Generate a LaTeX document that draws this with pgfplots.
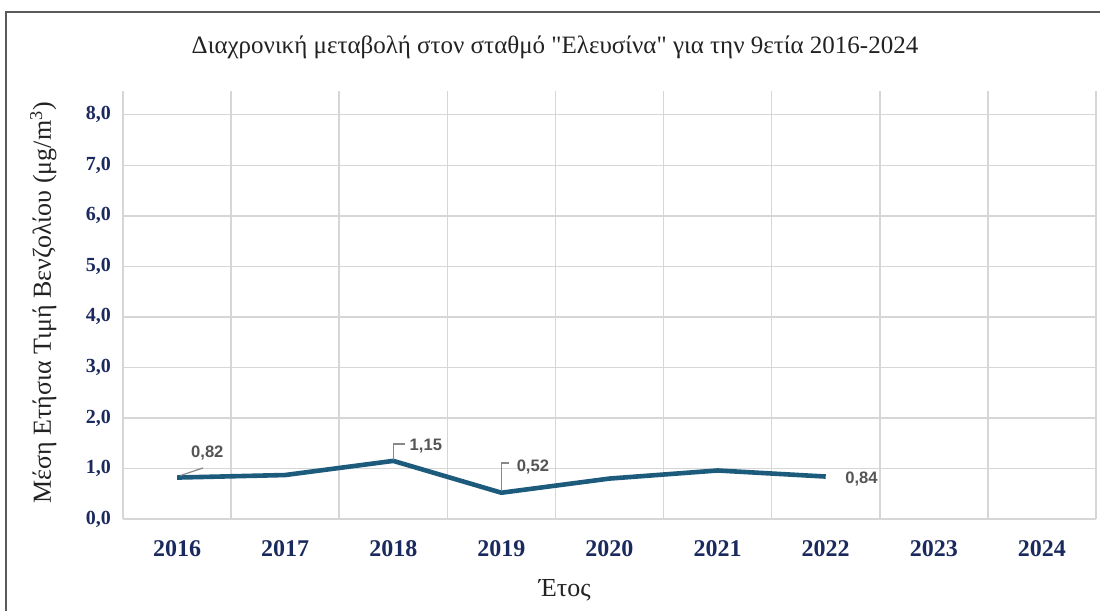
\documentclass[border=0pt]{standalone}
\usepackage{fontspec}
\setmainfont{Liberation Serif}[Ligatures=TeXOff]
\newfontfamily\lsans{Liberation Sans}
\usepackage{pgfplots}
\pgfplotsset{compat=1.18}
\definecolor{navy}{HTML}{1B2A5E}
\definecolor{linec}{HTML}{1D5B7C}
\definecolor{gridc}{HTML}{D6D6D6}
\definecolor{lblc}{HTML}{555555}
\definecolor{framec}{HTML}{5A5A5A}
\definecolor{txtc}{HTML}{222222}
\begin{document}
\begin{tikzpicture}
\useasboundingbox (0,0) rectangle (550pt,305.5pt);
\draw[framec, line width=1.1pt] (2.9pt,-10pt) -- (2.9pt,299.6pt) -- (560pt,299.6pt);
\node[font=\fontsize{12.5}{14}\selectfont, text=txtc] at (277.5pt,282pt) {Διαχρονική μεταβολή στον σταθμό "Ελευσίνα" για την 9ετία 2016-2024};
\begin{axis}[
  at={(61.5pt,46pt)}, anchor=south west, scale only axis,
  width=486.5pt, height=214pt,
  xmin=-0.5, xmax=8.5, ymin=0, ymax=8.47,
  axis line style={draw=none}, tick style={draw=none},
  xtick={0,...,8},
  xticklabels={2016,2017,2018,2019,2020,2021,2022,2023,2024},
  minor xtick={-0.5,0.5,...,8.5},
  xminorgrids=true, ymajorgrids=true,
  grid style={gridc, line width=0.75pt},
  minor grid style={gridc, line width=0.75pt},
  ytick={0,1,...,8},
  /pgf/number format/.cd, fixed, fixed zerofill, precision=1, use comma, assume math mode=true,
  /pgfplots/.cd,
  yticklabel style={font=\bfseries\fontsize{10}{11}\selectfont, text=navy, xshift=-2.5pt},
  xticklabel style={font=\bfseries\fontsize{12}{14}\selectfont, text=navy, yshift=-7pt},
  xlabel={Έτος},
  ylabel={Μέση Ετήσια Τιμή Βενζολίου (μg/m\textsuperscript{3})},
  every axis x label/.style={at={(axis description cs:0.454,-0.166)}, anchor=center, font=\fontsize{13}{15}\selectfont, text=txtc},
  every axis y label/.style={at={(axis description cs:-0.082,0.505)}, anchor=center, rotate=90, font=\fontsize{13}{15}\selectfont, text=txtc},
  clip=false,
]
\addplot[linec, line width=2.3pt, line join=round] coordinates {
(0,0.82) (1,0.87) (2,1.15) (3,0.52) (4,0.80) (5,0.96) (6,0.84)
};
\draw[lblc!70, line width=0.6pt] (axis cs:0.03,0.86) -- (axis cs:0.24,1.01);
\draw[lblc!70, line width=0.6pt] (axis cs:2,1.17) -- (axis cs:2,1.485) -- (axis cs:2.11,1.485);
\draw[lblc!70, line width=0.6pt] (axis cs:3,0.55) -- (axis cs:3,1.11) -- (axis cs:3.07,1.11);
\node[font=\lsans\bfseries\fontsize{8.3}{9}\selectfont, text=lblc] at (axis cs:0.28,1.31) {0,82};
\node[font=\lsans\bfseries\fontsize{8.3}{9}\selectfont, text=lblc, anchor=west, inner sep=1pt] at (axis cs:2.13,1.445) {1,15};
\node[font=\lsans\bfseries\fontsize{8.3}{9}\selectfont, text=lblc, anchor=west, inner sep=1pt] at (axis cs:3.12,1.03) {0,52};
\node[font=\lsans\bfseries\fontsize{8.3}{9}\selectfont, text=lblc, anchor=west, inner sep=1pt] at (axis cs:6.16,0.79) {0,84};
\end{axis}
\end{tikzpicture}
\end{document}
